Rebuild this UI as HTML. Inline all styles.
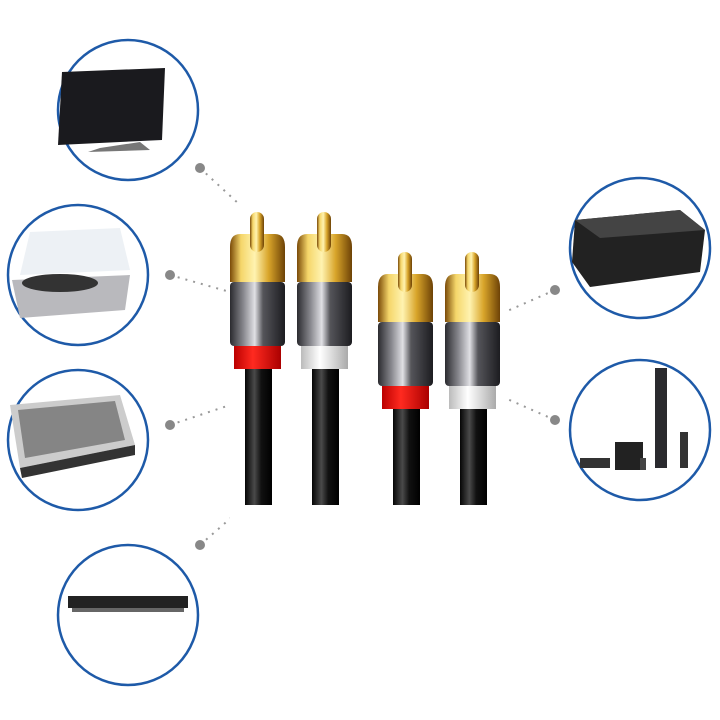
<!DOCTYPE html>
<html><head><style>html,body{margin:0;padding:0;background:#fff}svg{display:block}</style></head><body>
<svg width="720" height="720" viewBox="0 0 720 720" xmlns="http://www.w3.org/2000/svg">
<defs>
<linearGradient id="gold" x1="0" x2="1"><stop offset="0" stop-color="#7a4a08"/><stop offset=".2" stop-color="#f5d66a"/><stop offset=".45" stop-color="#fff3b0"/><stop offset=".7" stop-color="#d9a52a"/><stop offset="1" stop-color="#6d4206"/></linearGradient>
<linearGradient id="metal" x1="0" x2="1"><stop offset="0" stop-color="#2b2b2f"/><stop offset=".25" stop-color="#8a8a90"/><stop offset=".45" stop-color="#e0e0e4"/><stop offset=".6" stop-color="#55555a"/><stop offset="1" stop-color="#1c1c20"/></linearGradient>
<linearGradient id="cab" x1="0" x2="1"><stop offset="0" stop-color="#050505"/><stop offset=".35" stop-color="#4a4a4a"/><stop offset=".6" stop-color="#111"/><stop offset="1" stop-color="#000"/></linearGradient>
<linearGradient id="red" x1="0" x2="1"><stop offset="0" stop-color="#b00"/><stop offset=".4" stop-color="#ff2a20"/><stop offset="1" stop-color="#a00"/></linearGradient>
<linearGradient id="wht" x1="0" x2="1"><stop offset="0" stop-color="#bbb"/><stop offset=".4" stop-color="#fff"/><stop offset="1" stop-color="#aaa"/></linearGradient>
<g id="plugR"><rect x="15" y="156" width="27" height="140" fill="url(#cab)"/><rect x="4" y="132" width="47" height="25" fill="url(#red)"/><rect x="0" y="70" width="55" height="64" rx="4" fill="url(#metal)"/><path d="M0 70 L0 35 Q0 22 10 22 L45 22 Q55 22 55 35 L55 70Z" fill="url(#gold)"/><rect x="20" y="0" width="14" height="40" rx="7" fill="url(#gold)"/></g>
<g id="plugW"><rect x="15" y="156" width="27" height="140" fill="url(#cab)"/><rect x="4" y="132" width="47" height="25" fill="url(#wht)"/><rect x="0" y="70" width="55" height="64" rx="4" fill="url(#metal)"/><path d="M0 70 L0 35 Q0 22 10 22 L45 22 Q55 22 55 35 L55 70Z" fill="url(#gold)"/><rect x="20" y="0" width="14" height="40" rx="7" fill="url(#gold)"/></g>
</defs>
<g fill="none" stroke="#999" stroke-width="2" stroke-dasharray="2 6">
<line x1="200" y1="168" x2="240" y2="205"/><line x1="170" y1="275" x2="230" y2="292"/><line x1="170" y1="425" x2="230" y2="405"/><line x1="200" y1="545" x2="240" y2="510"/><line x1="555" y1="290" x2="505" y2="312"/><line x1="555" y1="420" x2="505" y2="398"/>
</g>
<g fill="#888"><circle cx="200" cy="168" r="5"/><circle cx="170" cy="275" r="5"/><circle cx="170" cy="425" r="5"/><circle cx="200" cy="545" r="5"/><circle cx="555" cy="290" r="5"/><circle cx="555" cy="420" r="5"/></g>
<use href="#plugR" x="230" y="212"/><use href="#plugW" x="297" y="212"/>
<use href="#plugR" x="378" y="252" transform="translate(0,0)"/>
<use href="#plugW" x="445" y="252"/>
<rect x="378" y="505" width="130" height="60" fill="#fff"/><rect x="230" y="505" width="130" height="60" fill="#fff"/>
<g fill="#fff" stroke="#1e5aa8" stroke-width="2.5">
<circle cx="128" cy="110" r="70"/><circle cx="78" cy="275" r="70"/><circle cx="78" cy="440" r="70"/><circle cx="128" cy="615" r="70"/><circle cx="640" cy="248" r="70"/><circle cx="640" cy="430" r="70"/>
</g>
<!-- TV -->
<path d="M62 72 L165 68 L162 140 L58 145Z" fill="#1a1a1e"/><path d="M100 148 L140 142 L150 150 L88 152Z" fill="#777"/>
<!-- turntable -->
<path d="M12 280 L130 275 L125 310 L20 318Z" fill="#b9b9bd"/><ellipse cx="60" cy="283" rx="38" ry="9" fill="#333"/><path d="M30 232 L120 228 L130 270 L20 275Z" fill="#e8eef3" opacity=".8"/>
<!-- mixer -->
<path d="M10 405 L120 395 L135 445 L20 468Z" fill="#ccc"/><path d="M18 410 L115 401 L125 440 L25 458Z" fill="#555" opacity=".6"/><path d="M20 468 L135 445 L135 455 L22 478Z" fill="#333"/>
<!-- dvd -->
<rect x="68" y="596" width="120" height="12" fill="#222"/><rect x="72" y="608" width="112" height="4" fill="#666"/>
<!-- amp -->
<path d="M575 220 L680 210 L705 230 L700 272 L590 287 L572 262Z" fill="#222"/><path d="M575 220 L680 210 L705 230 L600 238Z" fill="#444"/>
<!-- speakers -->
<rect x="655" y="368" width="12" height="100" fill="#2a2a2e"/><rect x="680" y="432" width="8" height="36" fill="#333"/><rect x="615" y="442" width="28" height="28" fill="#222"/><rect x="580" y="458" width="30" height="10" fill="#333"/><rect x="640" y="458" width="6" height="12" fill="#444"/>
</svg>
</body></html>
